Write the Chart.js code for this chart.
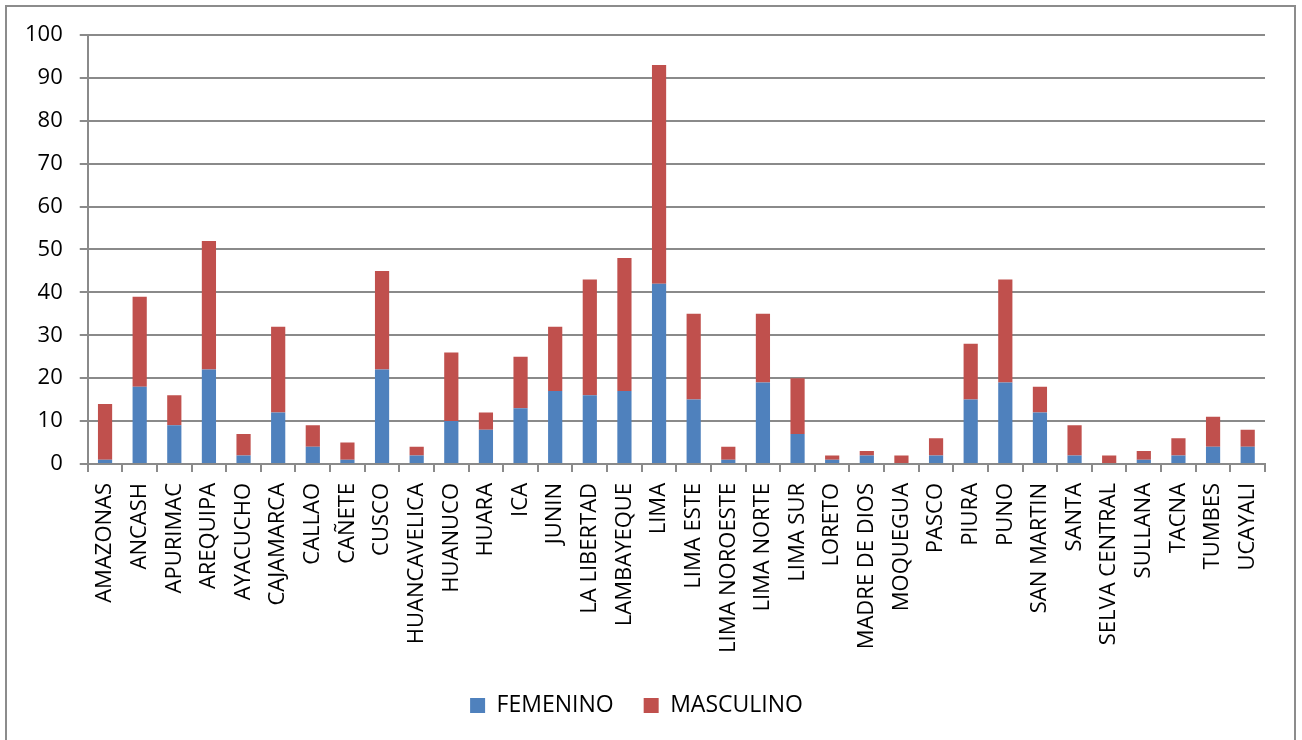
<!DOCTYPE html>
<html>
<head>
<meta charset="utf-8">
<script src="https://cdn.jsdelivr.net/npm/chart.js@4.4.0/dist/chart.umd.min.js"></script>
<style>
    body { margin: 0; background: #fff; overflow: hidden; }
    #wrap { position: absolute; left: 0; top: 0; width: 1302px; height: 740px; }
    #frame {
        position: absolute; left: 5px; top: 5px;
        width: 1291px; height: 800px;
        border: 2px solid #8c8c8c; box-sizing: border-box;
        pointer-events: none;
    }
</style>
</head>
<body>
<div id="wrap"><canvas id="chart"></canvas></div>
<div id="frame"></div>
<script>
const regions = [
    'AMAZONAS', 'ANCASH', 'APURIMAC', 'AREQUIPA', 'AYACUCHO', 'CAJAMARCA',
    'CALLAO', 'CAÑETE', 'CUSCO', 'HUANCAVELICA', 'HUANUCO', 'HUARA', 'ICA',
    'JUNIN', 'LA LIBERTAD', 'LAMBAYEQUE', 'LIMA', 'LIMA ESTE', 'LIMA NOROESTE',
    'LIMA NORTE', 'LIMA SUR', 'LORETO', 'MADRE DE DIOS', 'MOQUEGUA', 'PASCO',
    'PIURA', 'PUNO', 'SAN MARTIN', 'SANTA', 'SELVA CENTRAL', 'SULLANA',
    'TACNA', 'TUMBES', 'UCAYALI'
];

const femenino = [1, 18, 9, 22, 2, 12, 4, 1, 22, 2, 10, 8, 13, 17, 16, 17, 42, 15, 1, 19, 7, 1, 2, 0, 2, 15, 19, 12, 2, 0, 1, 2, 4, 4];
const masculino = [13, 21, 7, 30, 5, 20, 5, 4, 23, 2, 16, 4, 12, 15, 27, 31, 51, 20, 3, 16, 13, 1, 1, 2, 4, 13, 24, 6, 7, 2, 2, 4, 7, 4];

const yTicks = [0, 10, 20, 30, 40, 50, 60, 70, 80, 90, 100];

const fontFamily = "'Open Sans', 'Noto Sans', sans-serif";
const gridColor = '#8a8a8a';

var chart = new Chart(
    document.getElementById('chart'),
    {
        type: 'bar',
        data: {
            labels: regions,
            datasets: [
                {
                    label: 'FEMENINO',
                    data: femenino,
                    backgroundColor: '#4F81BD'
                },
                {
                    label: 'MASCULINO',
                    data: masculino,
                    backgroundColor: '#C0504D'
                }
            ]
        },
        options: {
            responsive: true,
            maintainAspectRatio: false,
            animation: false,
            datasets: {
                bar: { barPercentage: 0.41, categoryPercentage: 1 }
            },
            layout: {
                padding: { left: 8, right: 37, top: 35, bottom: 13 }
            },
            scales: {
                x: {
                    stacked: true,
                    grid: {
                        drawOnChartArea: false,
                        color: gridColor,
                        lineWidth: 2,
                        tickLength: 8,
                        offset: true
                    },
                    border: { color: gridColor, width: 2 },
                    ticks: {
                        color: '#000',
                        font: { family: fontFamily, size: 22 },
                        minRotation: 90,
                        maxRotation: 90,
                        autoSkip: false,
                        padding: 11
                    }
                },
                y: {
                    stacked: true,
                    min: 0,
                    max: 100,
                    afterBuildTicks: function(axis) {
                        axis.ticks = yTicks.map(v => ({ value: v }));
                    },
                    grid: {
                        color: gridColor,
                        lineWidth: 2,
                        tickLength: 8
                    },
                    border: { color: gridColor, width: 2 },
                    ticks: {
                        color: '#000',
                        font: { family: fontFamily, size: 22 },
                        padding: 17
                    }
                }
            },
            plugins: {
                tooltip: { enabled: false },
                legend: {
                    position: 'bottom',
                    labels: {
                        color: '#000',
                        boxWidth: 15,
                        boxHeight: 15,
                        padding: 30,
                        font: { family: fontFamily, size: 23 }
                    }
                }
            }
        }
    }
);
</script>
</body>
</html>
